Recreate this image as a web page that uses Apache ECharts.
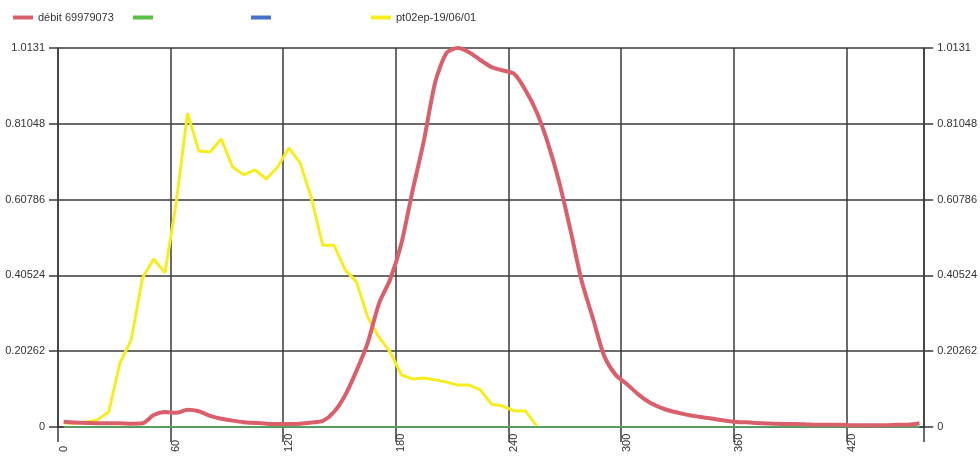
<!DOCTYPE html>
<html>
<head>
<meta charset="utf-8">
<script src="https://cdn.jsdelivr.net/npm/echarts@6/dist/echarts.min.js"></script>
<style>
html,body{margin:0;padding:0;background:#fff;}
#chart{width:980px;height:457px;}
</style>
</head>
<body>
<div id="chart"></div>
<script>
// time (x) samples shared by all series
const xValues = [3,9,15,21,27,33,39,45,51,57,63,69,75,81,87,93,99,105,111,117,123,129,135,141,147,153,159,165,171,177,183,189,195,201,207,213,219,225,231,237,243,249,255,261,267,273,279,285,291,297,303,309,315,321,327,333,339,345,351,357,363,369,375,381,387,393,399,405,411,417,423,429,435,441,447,453,459];
const debitValues = [0.014,0.012,0.011,0.010,0.010,0.010,0.009,0.010,0.032,0.040,0.038,0.046,0.042,0.030,0.022,0.017,0.013,0.011,0.009,0.008,0.008,0.009,0.012,0.016,0.040,0.085,0.150,0.225,0.330,0.395,0.492,0.634,0.767,0.922,1.000,1.013,1.002,0.981,0.962,0.953,0.944,0.901,0.842,0.759,0.655,0.527,0.390,0.290,0.190,0.140,0.115,0.088,0.066,0.052,0.042,0.035,0.029,0.025,0.020,0.016,0.013,0.012,0.010,0.009,0.008,0.008,0.007,0.006,0.006,0.006,0.005,0.005,0.005,0.005,0.006,0.006,0.010];
const pluieX = [3,9,15,21,27,33,39,45,51,57,63,69,75,81,87,93,99,105,111,117,123,129,135,141,147,153,159,165,171,177,183,189,195,201,207,213,219,225,231,237,243,249,255];
const pluieValues = [0.011,0.010,0.013,0.019,0.040,0.171,0.233,0.398,0.449,0.412,0.600,0.839,0.738,0.735,0.770,0.695,0.674,0.687,0.663,0.695,0.746,0.706,0.612,0.486,0.486,0.420,0.388,0.294,0.240,0.200,0.139,0.128,0.131,0.126,0.120,0.112,0.112,0.099,0.061,0.056,0.043,0.043,0.003];
const greenValues = xValues.map(() => 0);
const blueValues = xValues.map(() => 0);
const xTickValues = [0,60,120,180,240,300,360,420];
const yTickLabels = ['0','0.20262','0.40524','0.60786','0.81048','1.0131'];
const yStep = 0.20262;
const yMax = 1.0131;
const xMax = 461.5;
const seriesNames = ['débit 69979073',' ','  ','pt02ep-19/06/01'];

const pair = (xs, ys) => xs.map((x, i) => [x, ys[i]]);
const font = 'Liberation Sans, Arial, sans-serif';
const gridColor = '#3a3a3a';

function yAxisDef(pos) {
  return {
    type: 'value', position: pos, min: 0, max: yMax, interval: yStep,
    axisLine: {show: true, lineStyle: {color: gridColor, width: 1.5}},
    axisTick: {show: true, length: 9, lineStyle: {color: gridColor, width: 1.5}},
    splitLine: {show: pos === 'left', lineStyle: {color: gridColor, width: 1.5}},
    axisLabel: {
      margin: 13, fontSize: 11, color: '#333', fontFamily: font,
      formatter: v => yTickLabels[Math.round(v / yStep)] || ''
    }
  };
}

const chart = echarts.init(document.getElementById('chart'), null, {renderer: 'canvas'});
const legendCommon = {
  top: 7, icon: 'rect', itemWidth: 20, itemHeight: 4, itemGap: 10,
  textStyle: {fontSize: 11, color: '#333', fontFamily: font}, selectedMode: false
};
chart.setOption({
  animation: false,
  backgroundColor: '#fff',
  legend: [
    Object.assign({data: [seriesNames[0]], left: 8}, legendCommon),
    Object.assign({data: [seriesNames[1]], left: 128}, legendCommon),
    Object.assign({data: [seriesNames[2]], left: 246}, legendCommon),
    Object.assign({data: [seriesNames[3]], left: 366}, legendCommon)
  ],
  grid: {left: 58, right: 54, top: 48, bottom: 30, containLabel: false},
  xAxis: {
    type: 'value', min: 0, max: xMax, interval: 60,
    axisLine: {show: true, onZero: false, lineStyle: {color: gridColor, width: 1.5}},
    axisTick: {show: true, length: 15, customValues: xTickValues.concat([xMax]), lineStyle: {color: gridColor, width: 1.5}},
    splitLine: {show: true, lineStyle: {color: gridColor, width: 1.5}},
    axisLabel: {
      rotate: 90, align: 'left', verticalAlign: 'top', margin: 25,
      fontSize: 11, color: '#333', fontFamily: font,
      customValues: xTickValues,
      formatter: v => String(v)
    }
  },
  yAxis: [yAxisDef('left'), yAxisDef('right')],
  series: [
    {name: seriesNames[0], type: 'line', data: pair(xValues, debitValues), showSymbol: false,
     smooth: 0.25, color: '#d9606b', lineStyle: {width: 4, color: '#d9606b'}, z: 3},
    {name: seriesNames[1], type: 'line', data: pair(xValues, greenValues), showSymbol: false,
     color: '#5cbf45', lineStyle: {width: 1.5, color: '#5cbf45'}, z: 2},
    {name: seriesNames[2], type: 'line', data: pair(xValues, blueValues), showSymbol: false,
     color: '#4a6fc8', lineStyle: {width: 1.5, color: '#4a6fc8'}, z: 1},
    {name: seriesNames[3], type: 'line', data: pair(pluieX, pluieValues), showSymbol: false,
     color: '#f7ec1e', lineStyle: {width: 3, color: '#f7ec1e'}, z: 2}
  ]
});
</script>
</body>
</html>
